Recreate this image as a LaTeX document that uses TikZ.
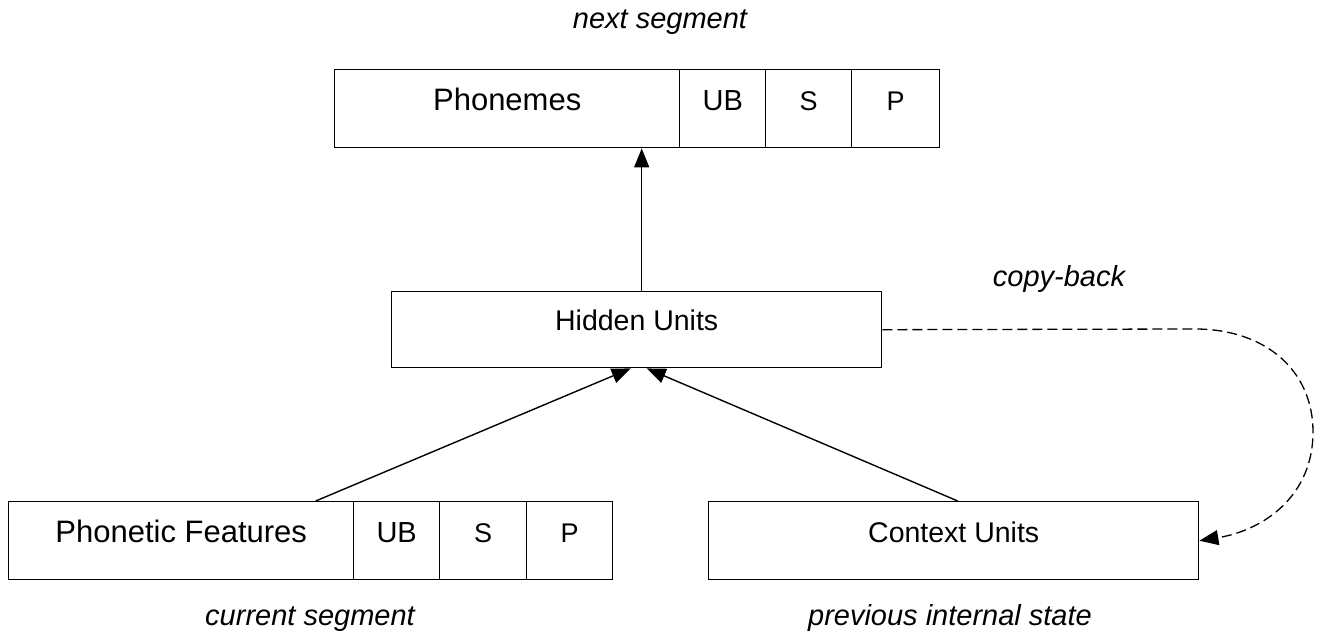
\documentclass[tikz,border=0pt]{standalone}
\usepackage{fontspec}
\setmainfont{Liberation Sans}
\usetikzlibrary{arrows.meta}
\tikzset{
  cell/.style={draw, line width=1.4pt, inner sep=0pt, anchor=north west, text depth=37pt},
  big/.style={font=\fontsize{31}{34}\selectfont},
  mid/.style={font=\fontsize{28.5}{32}\selectfont},
  ubf/.style={font=\fontsize{29}{32}\selectfont},
  sml/.style={font=\fontsize{27}{30}\selectfont},
  lab/.style={font=\fontsize{29}{32}\selectfont\itshape, anchor=base, inner sep=0pt},
  arr/.style={line width=1.4pt, -{Triangle[length=19pt,width=15pt]}},
  dashline/.style={line width=1.3pt, dash pattern=on 10pt off 5pt, -{Triangle[length=19pt,width=15pt]}}
}
\begin{document}
\begin{tikzpicture}[x=1pt,y=-1pt]
\useasboundingbox (0,0) rectangle (1323,639);
% top row
\node[cell, big, minimum width=345pt, text height=41pt] (phon) at (334,69) {Phonemes};
\node[cell, ubf, minimum width=86pt, text height=41pt] (pub) at (679,69) {UB};
\node[cell, sml, minimum width=86pt, text height=41pt] (ps) at (765,69) {S};
\node[cell, sml, minimum width=88pt, text height=41pt] (pp) at (851,69) {P};
% hidden
\node[cell, mid, minimum width=490pt, text height=39pt] (hid) at (391,291) {Hidden Units};
% bottom row
\node[cell, big, minimum width=345pt, text height=41pt] (pf) at (8,501) {Phonetic Features};
\node[cell, ubf, minimum width=86pt, text height=41pt] (fub) at (353,501) {UB};
\node[cell, sml, minimum width=87pt, text height=41pt] (fs) at (439,501) {S};
\node[cell, sml, minimum width=86pt, text height=41pt] (fp) at (526,501) {P};
\node[cell, mid, minimum width=490pt, text height=41pt] (ctx) at (708,501) {Context Units};
% labels
\node[lab] (lnext) at (660,29) {next segment};
\node[lab] (lcopy) at (1059,287) {copy-back};
\node[lab] (lcur) at (310,625) {current segment};
\node[lab] (lprev) at (950,625) {previous internal state};
% connectors
\draw[arr] ([xshift=5pt]hid.north) -- ([xshift=5pt]hid.north |- phon.south);
\draw[arr] ([xshift=134.5pt]pf.north) -- ([xshift=-6pt]hid.south);
\draw[arr] ([xshift=4pt]ctx.north) -- ([xshift=10pt]hid.south);
\draw[dashline] (hid.east) -- (1195,329)
  .. controls (1265,329) and (1313,370) .. (1313,432)
  .. controls (1313,495) and (1265,530) .. (ctx.east);
\end{tikzpicture}
\end{document}
